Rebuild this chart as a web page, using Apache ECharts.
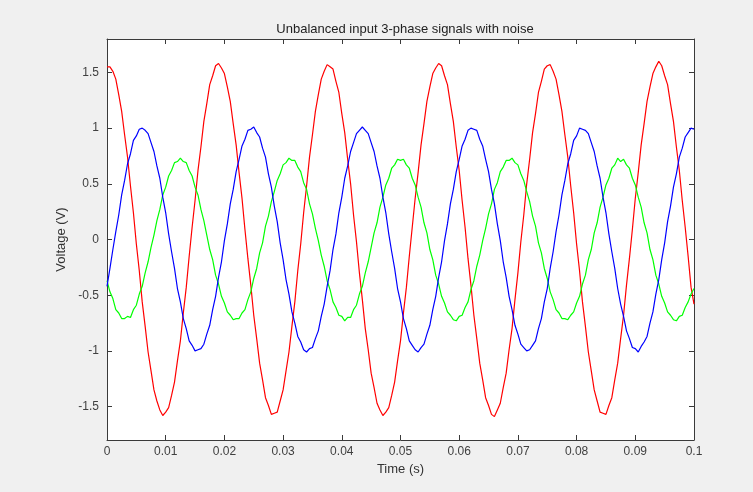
<!DOCTYPE html>
<html>
<head>
<meta charset="utf-8">
<title>Unbalanced input 3-phase signals with noise</title>
<script src="https://cdn.jsdelivr.net/npm/echarts@6/dist/echarts.min.js"></script>
<style>
  html, body { margin: 0; padding: 0; background: #f0f0f0; }
  #chart { width: 753px; height: 492px; }
</style>
</head>
<body>
<div id="chart"></div>
<script>
// Sampling step of the recorded signals (s); every series has 201 samples from 0 to 0.1 s
const sampleStep = 0.0005;

// Phase A (red), volts
const phaseA = [
  1.55, 1.55, 1.51, 1.44, 1.30, 1.15, 0.94, 0.74, 0.48, 0.24,
  -0.04, -0.28, -0.56, -0.78, -1.01, -1.18, -1.35, -1.45, -1.53, -1.58,
  -1.55, -1.51, -1.40, -1.28, -1.09, -0.91, -0.66, -0.43, -0.15, 0.11,
  0.35, 0.62, 0.83, 1.06, 1.22, 1.39, 1.47, 1.56, 1.58, 1.54,
  1.49, 1.37, 1.24, 1.04, 0.85, 0.60, 0.37, 0.09, -0.17, -0.41,
  -0.68, -0.89, -1.11, -1.26, -1.42, -1.49, -1.57, -1.56, -1.55, -1.45,
  -1.35, -1.18, -1.01, -0.78, -0.56, -0.28, -0.04, 0.24, 0.48, 0.74,
  0.94, 1.15, 1.30, 1.44, 1.51,
  1.57, 1.55, 1.53, 1.42, 1.32,
  1.13, 0.96, 0.72, 0.50, 0.22, -0.02, -0.30, -0.54, -0.80, -0.99,
  -1.20, -1.33, -1.47, -1.53, -1.58, -1.55, -1.51, -1.40, -1.28, -1.09,
  -0.91, -0.66, -0.43, -0.15, 0.11, 0.37, 0.60, 0.85, 1.04, 1.24,
  1.37, 1.49, 1.54, 1.58, 1.56, 1.47, 1.39, 1.22, 1.06, 0.83,
  0.62, 0.35, 0.11, -0.17, -0.41, -0.68, -0.89, -1.11, -1.26, -1.42,
  -1.49, -1.57, -1.59, -1.53, -1.47, -1.33, -1.20, -0.99, -0.80, -0.54,
  -0.30, -0.02, 0.22, 0.50, 0.72, 0.96, 1.13, 1.32, 1.42, 1.53,
  1.56, 1.57, 1.51, 1.44, 1.30, 1.15, 0.94, 0.74, 0.48, 0.24,
  -0.04, -0.28, -0.56, -0.78, -1.01, -1.18, -1.35, -1.45, -1.55, -1.56,
  -1.57, -1.49, -1.42, -1.26, -1.11, -0.89, -0.68, -0.41, -0.17, 0.09,
  0.37, 0.60, 0.85, 1.04, 1.24, 1.37, 1.49, 1.55, 1.60, 1.56,
  1.47, 1.39, 1.22, 1.06, 0.83, 0.62, 0.35, 0.11, -0.15, -0.43,
  -0.58
];

// Phase B (blue), volts
const phaseB = [
  -0.42, -0.26, -0.09, 0.07, 0.22, 0.40, 0.53, 0.68, 0.77, 0.89,
  0.93, 0.99, 1.00, 0.98, 0.95, 0.87, 0.79, 0.66, 0.55, 0.38,
  0.24, 0.05, -0.11, -0.26, -0.44, -0.56, -0.71, -0.80, -0.91, -0.95,
  -1.00, -0.99, -0.98, -0.94, -0.85, -0.77, -0.63, -0.51, -0.34, -0.20,
  -0.01, 0.14, 0.32, 0.45, 0.61, 0.72, 0.84, 0.90, 0.98,
  0.99,
  1.01, 0.96, 0.92, 0.82, 0.74, 0.59, 0.47, 0.30, 0.16, -0.03,
  -0.18, -0.36, -0.49, -0.65, -0.75, -0.87, -0.92, -0.99, -1.01, -0.98,
  -0.97, -0.89, -0.82, -0.69, -0.58, -0.42, -0.28, -0.09, 0.05, 0.24,
  0.38, 0.55, 0.66, 0.79, 0.87, 0.95, 0.98, 1.01, 0.98, 0.95,
  0.87, 0.79, 0.66, 0.55, 0.38, 0.24, 0.05, -0.11, -0.26, -0.44,
  -0.56, -0.71, -0.80, -0.91, -0.95, -0.99, -1.01, -0.97, -0.94, -0.85,
  -0.77, -0.63, -0.51, -0.34, -0.20, -0.01, 0.14, 0.32, 0.45, 0.61,
  0.72, 0.84, 0.90, 0.98,
  1.00,
  0.99, 0.98, 0.90, 0.84, 0.72, 0.61, 0.45, 0.32, 0.14, -0.01,
  -0.20, -0.34, -0.51, -0.63, -0.77, -0.85, -0.94, -0.97, -1.00, -0.99,
  -0.95, -0.91, -0.80, -0.71, -0.56, -0.44, -0.26, -0.11, 0.07, 0.22,
  0.40, 0.53, 0.68, 0.77, 0.89, 0.93, 1.00, 0.99, 0.98, 0.95,
  0.87, 0.79, 0.66, 0.55, 0.38, 0.24, 0.05, -0.11, -0.26, -0.44,
  -0.58, -0.69, -0.82, -0.89, -0.97, -0.98, -1.01, -0.96, -0.92, -0.87,
  -0.75, -0.65, -0.49, -0.36, -0.18, -0.03, 0.16, 0.30, 0.47, 0.59,
  0.74, 0.82, 0.92, 0.96,
  1.00, 0.99
];

// Phase C (green), volts
const phaseC = [
  -0.37, -0.47, -0.53, -0.63, -0.66, -0.71, -0.71, -0.69, -0.70, -0.63,
  -0.59, -0.49, -0.42, -0.30, -0.20, -0.07, 0.04, 0.17, 0.27, 0.40,
  0.47, 0.57, 0.62, 0.69, 0.70, 0.73, 0.70, 0.69, 0.62, 0.57,
  0.47, 0.40, 0.27, 0.17, 0.04, -0.09, -0.18, -0.32, -0.40, -0.51,
  -0.57, -0.65, -0.68, -0.72, -0.71, -0.71, -0.66, -0.63, -0.54, -0.47,
  -0.35, -0.26, -0.12, -0.03, 0.12, 0.21, 0.34, 0.43, 0.53, 0.59,
  0.67, 0.69,
  0.73, 0.71, 0.71, 0.65, 0.61, 0.51, 0.45, 0.32, 0.23, 0.10,
  -0.01, -0.14, -0.24, -0.37, -0.45, -0.56, -0.61, -0.68, -0.69, -0.73,
  -0.70, -0.70, -0.63, -0.59, -0.49, -0.42, -0.30, -0.20, -0.07, 0.06,
  0.15, 0.29, 0.38, 0.49, 0.55, 0.64, 0.67, 0.72, 0.71, 0.72,
  0.67, 0.64, 0.55, 0.49, 0.38, 0.29, 0.15, 0.06, -0.09, -0.18,
  -0.32, -0.40, -0.51, -0.57, -0.65, -0.68, -0.72, -0.73, -0.69, -0.68,
  -0.61, -0.56, -0.45, -0.37, -0.24, -0.14, -0.01, 0.10, 0.23, 0.32,
  0.45, 0.51, 0.61, 0.65, 0.71,
  0.71, 0.73, 0.69, 0.67, 0.59, 0.53, 0.43, 0.34, 0.21, 0.12,
  -0.03, -0.12, -0.26, -0.35, -0.47, -0.54, -0.63, -0.66, -0.71, -0.71,
  -0.72, -0.68, -0.65, -0.57, -0.51, -0.40, -0.32, -0.18, -0.09, 0.06,
  0.15, 0.29, 0.38, 0.49, 0.55, 0.64, 0.67, 0.73, 0.70, 0.72,
  0.67, 0.64, 0.55, 0.49, 0.38, 0.29, 0.15, 0.06, -0.09, -0.18,
  -0.32, -0.40, -0.51, -0.57, -0.65, -0.68, -0.72, -0.73, -0.69, -0.68,
  -0.61, -0.56, -0.49, -0.44
];

// Tick positions
const voltTicks = [-1.5, -1, -0.5, 0, 0.5, 1, 1.5];
const timeTicks = [0, 0.01, 0.02, 0.03, 0.04, 0.05, 0.06, 0.07, 0.08, 0.09, 0.1];

function pairs(values) {
  return values.map((v, i) => [+(i * sampleStep).toFixed(4), v]);
}

const axisColor = '#3a3a3a';
const labelColor = '#404040';
const fontFamily = 'Liberation Sans, Arial, sans-serif';

const chart = echarts.init(document.getElementById('chart'), null, { renderer: 'canvas' });

const xCommon = {
  type: 'value',
  min: 0,
  max: 0.1,
  splitLine: { show: false },
  axisLine: { show: true, onZero: false, lineStyle: { color: axisColor, width: 1 } },
  axisTick: { show: true, inside: true, length: 5, customValues: timeTicks, lineStyle: { color: axisColor } }
};
const yCommon = {
  type: 'value',
  min: -1.8,
  max: 1.8,
  splitLine: { show: false },
  axisLine: { show: true, onZero: false, lineStyle: { color: axisColor, width: 1 } },
  axisTick: { show: true, inside: true, length: 5, customValues: voltTicks, lineStyle: { color: axisColor } }
};

chart.setOption({
  backgroundColor: '#f0f0f0',
  animation: false,
  title: {
    text: 'Unbalanced input 3-phase signals with noise',
    left: 400,
    top: 18,
    textAlign: 'center',
    textStyle: { fontFamily, fontSize: 13, fontWeight: 'normal', color: '#222' }
  },
  grid: {
    left: 107, right: 59, top: 39, bottom: 52,
    show: true, backgroundColor: '#ffffff', borderWidth: 0
  },
  xAxis: [
    Object.assign({}, xCommon, {
      position: 'bottom',
      name: 'Time (s)',
      nameLocation: 'middle',
      nameGap: 22,
      nameTextStyle: { fontFamily, fontSize: 13, color: '#333' },
      axisLabel: {
        margin: 6,
        customValues: timeTicks,
        fontFamily, fontSize: 12, color: labelColor,
        formatter: v => String(+v.toFixed(2))
      }
    }),
    Object.assign({}, xCommon, { position: 'top', axisLabel: { show: false } })
  ],
  yAxis: [
    Object.assign({}, yCommon, {
      position: 'left',
      name: 'Voltage (V)',
      nameLocation: 'middle',
      nameGap: 35,
      nameTextStyle: { fontFamily, fontSize: 13, color: '#333' },
      axisLabel: {
        margin: 8,
        customValues: voltTicks,
        fontFamily, fontSize: 12, color: labelColor,
        formatter: v => String(+v.toFixed(2))
      }
    }),
    Object.assign({}, yCommon, { position: 'right', axisLabel: { show: false } })
  ],
  series: [
    { name: 'A', type: 'line', data: pairs(phaseA), color: '#ff0000' },
    { name: 'C', type: 'line', data: pairs(phaseC), color: '#00ff00' },
    { name: 'B', type: 'line', data: pairs(phaseB), color: '#0000ff' }
  ].map(s => Object.assign(s, {
    xAxisIndex: 0,
    yAxisIndex: 0,
    showSymbol: false,
    symbol: 'none',
    clip: true,
    lineStyle: { width: 1.2 }
  }))
});
</script>
</body>
</html>
